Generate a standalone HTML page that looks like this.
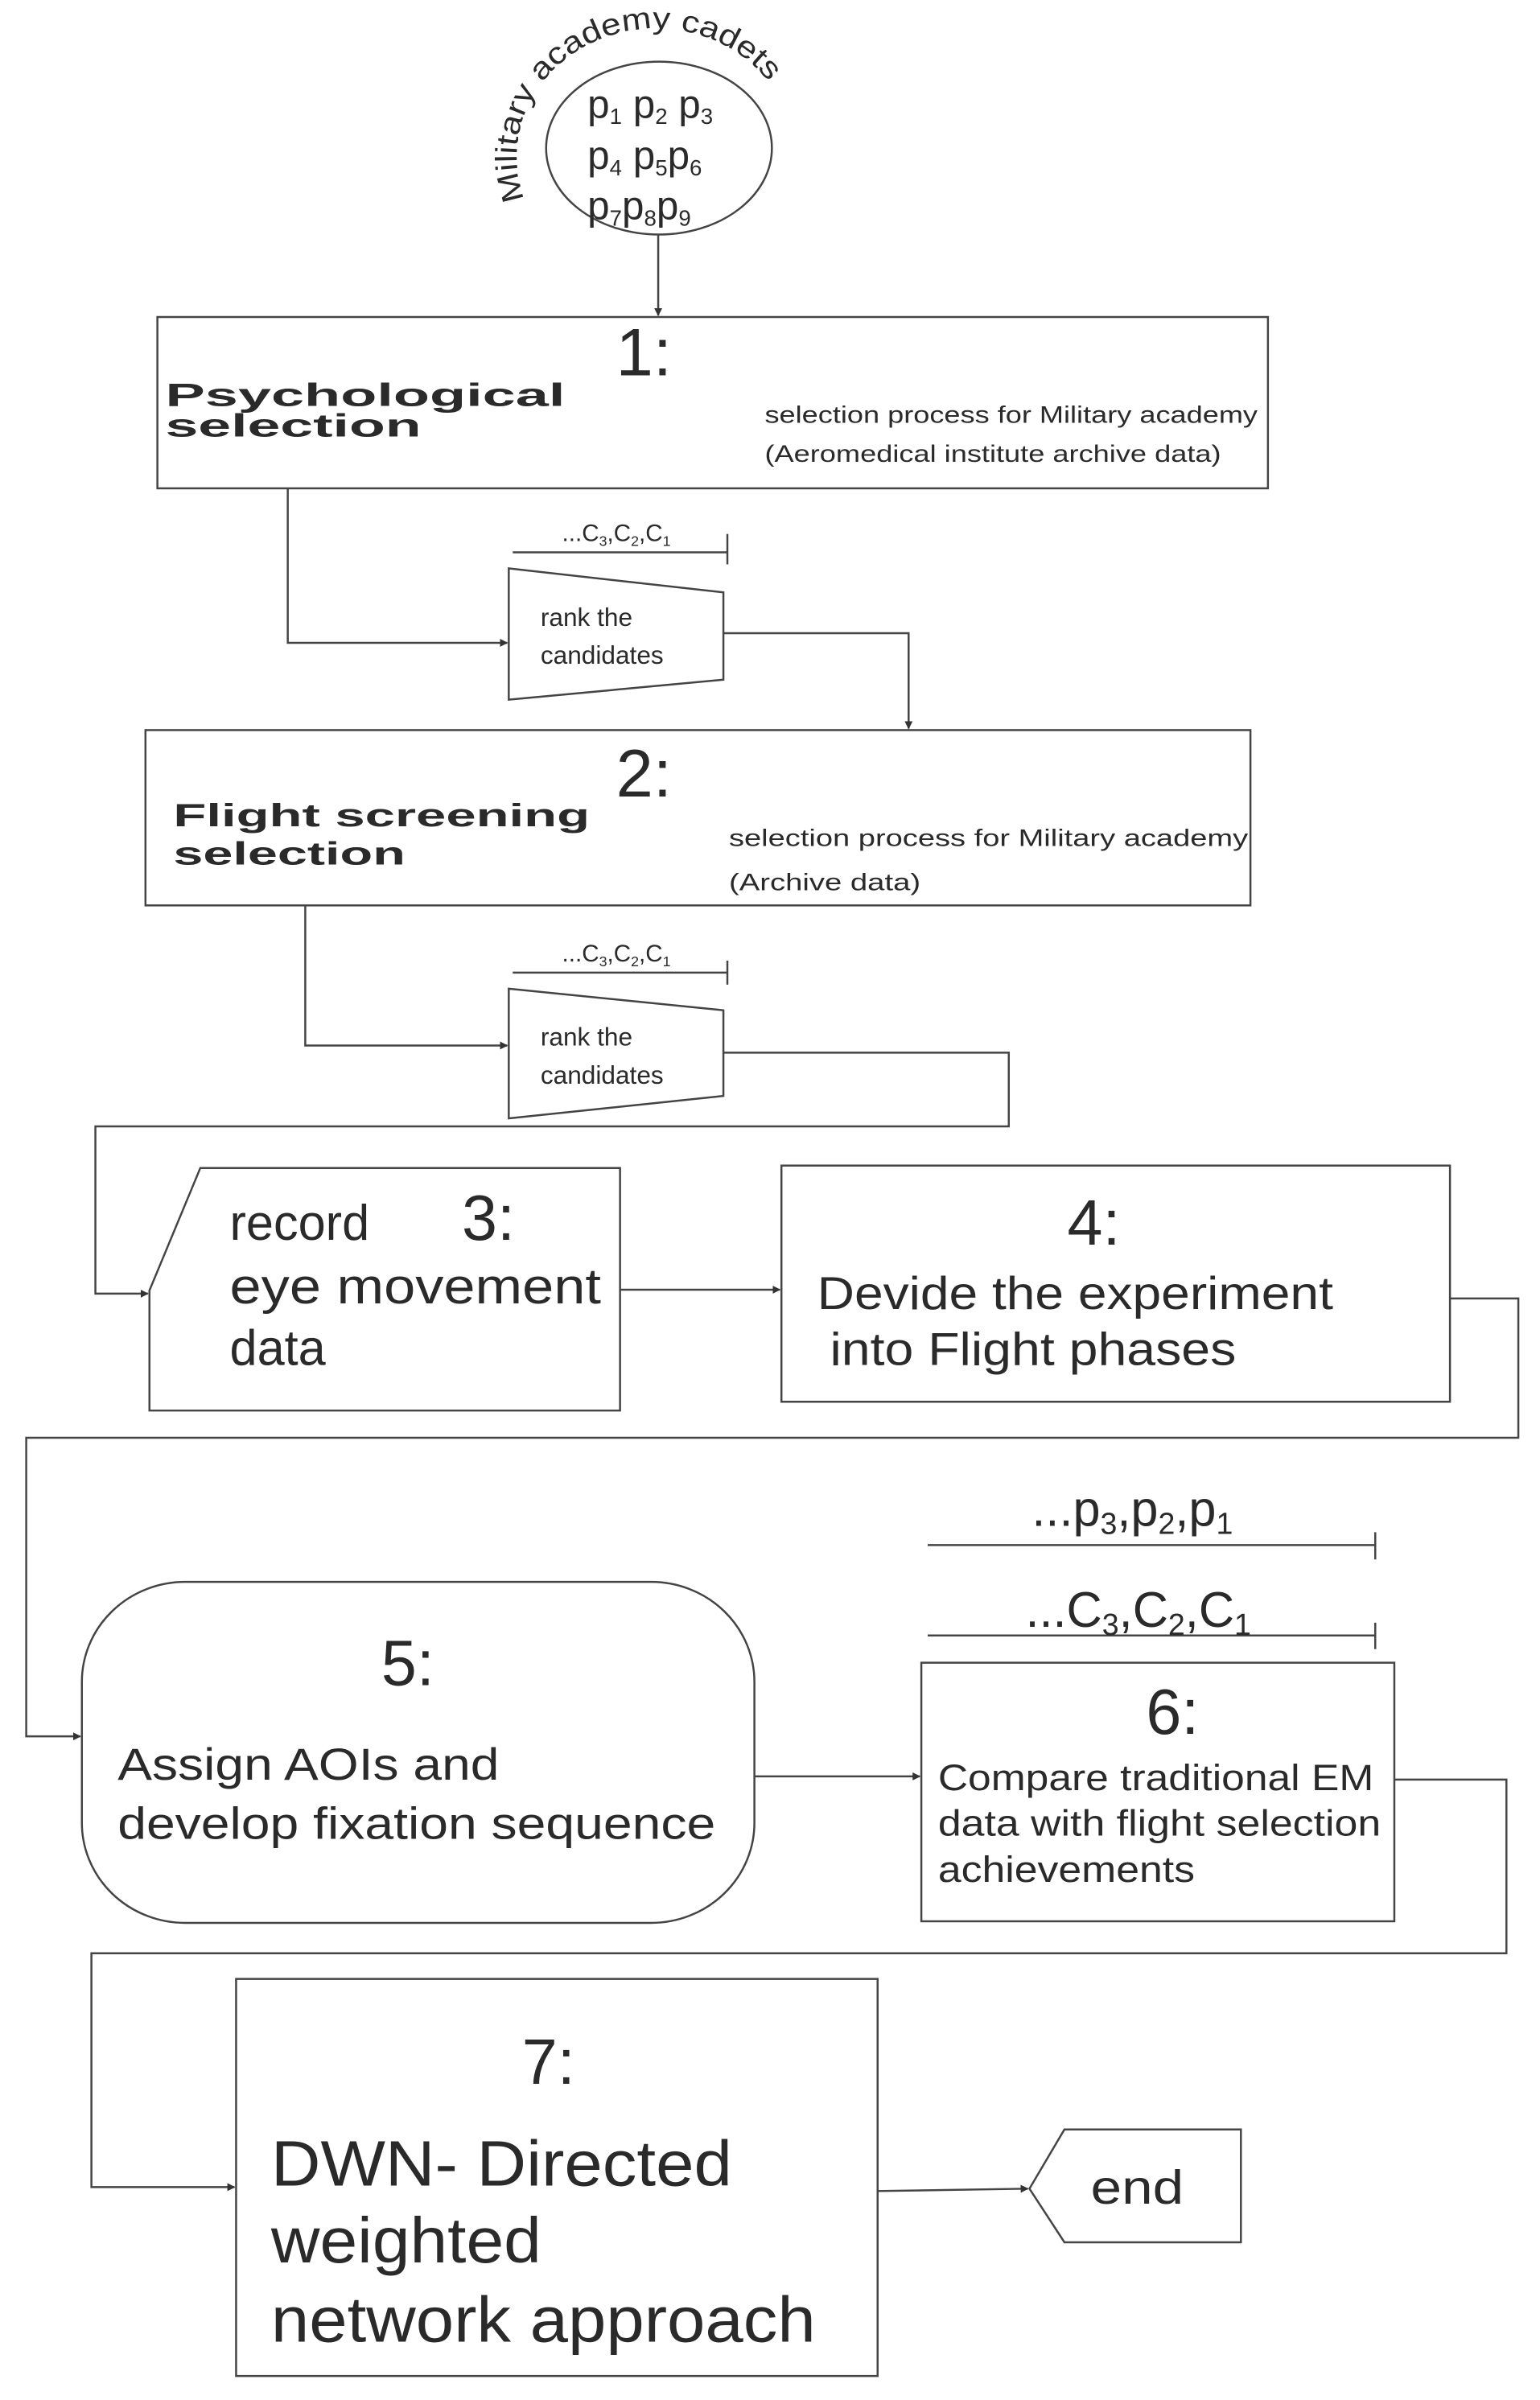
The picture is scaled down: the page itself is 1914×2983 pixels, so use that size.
<!DOCTYPE html>
<html><head><meta charset="utf-8"><style>
html,body{margin:0;padding:0;background:#fff}
svg{display:block}
text{font-family:"Liberation Sans",sans-serif;fill:#2a2a2a}
.n{font-family:"Liberation Sans Narrow","Liberation Sans",sans-serif}
</style></head><body>
<svg width="1914" height="2983" viewBox="0 0 1914 2983" xmlns="http://www.w3.org/2000/svg">
<defs>
<marker id="a" markerWidth="10" markerHeight="10" refX="9" refY="5" orient="auto" markerUnits="userSpaceOnUse">
<path d="M0,0 L10,5 L0,10 z" fill="#333"/></marker>
<path id="arc" d="M 660,249 A 175 160 0 0 1 978,118"/>
</defs>
<g transform="scale(0.988,0.995)">
<g stroke="#444" stroke-width="2.5" fill="none">
<ellipse cx="829" cy="185" rx="142" ry="108" fill="#fff"/>
<line x1="828" y1="293" x2="828" y2="394" marker-end="url(#a)"/>
<rect x="198" y="396" width="1397" height="214" fill="#fff"/>
<polyline points="362,610 362,803 638,803" marker-end="url(#a)"/>
<line x1="645" y1="690" x2="915" y2="690"/><line x1="915" y1="667" x2="915" y2="705"/>
<polygon points="640,710 910,740 910,849 640,874" fill="#fff"/>
<polyline points="910,791 1143,791 1143,910" marker-end="url(#a)"/>
<rect x="183" y="912" width="1390" height="219" fill="#fff"/>
<polyline points="384,1131 384,1306 638,1306" marker-end="url(#a)"/>
<line x1="645" y1="1215" x2="915" y2="1215"/><line x1="915" y1="1200" x2="915" y2="1230"/>
<polygon points="640,1235 910,1262 910,1369 640,1397" fill="#fff"/>
<polyline points="910,1315 1269,1315 1269,1407 120,1407 120,1616 186,1616" marker-end="url(#a)"/>
<polygon points="252,1459 780,1459 780,1762 188,1762 188,1612" fill="#fff"/>
<line x1="780" y1="1611" x2="981" y2="1611" marker-end="url(#a)"/>
<rect x="983" y="1456" width="841" height="295" fill="#fff"/>
<polyline points="1824,1622 1910,1622 1910,1796 33,1796 33,2169 101,2169" marker-end="url(#a)"/>
<line x1="1167" y1="1930" x2="1730" y2="1930"/><line x1="1730" y1="1914" x2="1730" y2="1948"/>
<line x1="1167" y1="2043" x2="1730" y2="2043"/><line x1="1730" y1="2027" x2="1730" y2="2060"/>
<rect x="103" y="1976" width="846" height="426" rx="130" ry="125" fill="#fff"/>
<line x1="949" y1="2219" x2="1157" y2="2219" marker-end="url(#a)"/>
<rect x="1159" y="2077" width="595" height="323" fill="#fff"/>
<polyline points="1754,2223 1895,2223 1895,2440 115,2440 115,2732 295,2732" marker-end="url(#a)"/>
<rect x="297" y="2472" width="807" height="496" fill="#fff"/>
<line x1="1104" y1="2737" x2="1293" y2="2734" marker-end="url(#a)"/>
<polygon points="1295,2734 1339,2660 1561,2660 1561,2801 1339,2801" fill="#fff"/>
</g>

<text class="n" font-size="38"><textPath href="#arc" textLength="480" lengthAdjust="spacingAndGlyphs">Military academy cadets</textPath></text>
<text class="n" font-size="50" x="739" y="147">p<tspan font-size="28" dy="8">1</tspan><tspan dy="-8"> p</tspan><tspan font-size="28" dy="8">2</tspan><tspan dy="-8"> p</tspan><tspan font-size="28" dy="8">3</tspan></text>
<text class="n" font-size="50" x="739" y="211">p<tspan font-size="28" dy="8">4</tspan><tspan dy="-8"> p</tspan><tspan font-size="28" dy="8">5</tspan><tspan dy="-8">p</tspan><tspan font-size="28" dy="8">6</tspan></text>
<text class="n" font-size="50" x="739" y="274">p<tspan font-size="28" dy="8">7</tspan><tspan dy="-8">p</tspan><tspan font-size="28" dy="8">8</tspan><tspan dy="-8">p</tspan><tspan font-size="28" dy="8">9</tspan></text>

<text font-size="84" x="810" y="469" text-anchor="middle">1:</text>
<text font-size="40" font-weight="bold" x="208" y="507" textLength="503" lengthAdjust="spacingAndGlyphs">Psychological</text>
<text font-size="40" font-weight="bold" x="208" y="545" textLength="322" lengthAdjust="spacingAndGlyphs">selection</text>
<text class="n" font-size="30" x="962" y="528" textLength="620" lengthAdjust="spacingAndGlyphs">selection process for Military academy</text>
<text class="n" font-size="30" x="962" y="577" textLength="574" lengthAdjust="spacingAndGlyphs">(Aeromedical institute archive data)</text>
<text class="n" font-size="30" x="707" y="676">...C<tspan font-size="18" dy="6">3</tspan><tspan dy="-6">,C</tspan><tspan font-size="18" dy="6">2</tspan><tspan dy="-6">,C</tspan><tspan font-size="18" dy="6">1</tspan></text>
<text class="n" font-size="32" x="680" y="782">rank the</text>
<text class="n" font-size="32" x="680" y="829">candidates</text>

<text font-size="84" x="810" y="995" text-anchor="middle">2:</text>
<text font-size="40" font-weight="bold" x="218" y="1032" textLength="524" lengthAdjust="spacingAndGlyphs">Flight screening</text>
<text font-size="40" font-weight="bold" x="218" y="1080" textLength="292" lengthAdjust="spacingAndGlyphs">selection</text>
<text class="n" font-size="30" x="917" y="1057" textLength="653" lengthAdjust="spacingAndGlyphs">selection process for Military academy</text>
<text class="n" font-size="30" x="917" y="1112" textLength="241" lengthAdjust="spacingAndGlyphs">(Archive data)</text>
<text class="n" font-size="30" x="707" y="1201">...C<tspan font-size="18" dy="6">3</tspan><tspan dy="-6">,C</tspan><tspan font-size="18" dy="6">2</tspan><tspan dy="-6">,C</tspan><tspan font-size="18" dy="6">1</tspan></text>
<text class="n" font-size="32" x="680" y="1306">rank the</text>
<text class="n" font-size="32" x="680" y="1354">candidates</text>

<text class="n" font-size="62" x="289" y="1549">record</text>
<text class="n" font-size="80" x="581" y="1549">3:</text>
<text class="n" font-size="62" x="289" y="1628" textLength="467" lengthAdjust="spacingAndGlyphs">eye movement</text>
<text class="n" font-size="62" x="289" y="1705">data</text>

<text class="n" font-size="80" x="1376" y="1555" text-anchor="middle">4:</text>
<text class="n" font-size="58" x="1028" y="1635" textLength="649" lengthAdjust="spacingAndGlyphs">Devide the experiment</text>
<text class="n" font-size="58" x="1044" y="1705" textLength="511" lengthAdjust="spacingAndGlyphs">into Flight phases</text>

<text class="n" font-size="62" x="1298" y="1906">...p<tspan font-size="38" dy="10">3</tspan><tspan dy="-10">,p</tspan><tspan font-size="38" dy="10">2</tspan><tspan dy="-10">,p</tspan><tspan font-size="38" dy="10">1</tspan></text>
<text class="n" font-size="62" x="1290" y="2032">...C<tspan font-size="38" dy="10">3</tspan><tspan dy="-10">,C</tspan><tspan font-size="38" dy="10">2</tspan><tspan dy="-10">,C</tspan><tspan font-size="38" dy="10">1</tspan></text>

<text class="n" font-size="80" x="513" y="2105" text-anchor="middle">5:</text>
<text class="n" font-size="56" x="148" y="2223" textLength="480" lengthAdjust="spacingAndGlyphs">Assign AOIs and</text>
<text class="n" font-size="56" x="148" y="2297" textLength="752" lengthAdjust="spacingAndGlyphs">develop fixation sequence</text>

<text class="n" font-size="80" x="1475" y="2166" text-anchor="middle">6:</text>
<text class="n" font-size="46" x="1180" y="2236" textLength="548" lengthAdjust="spacingAndGlyphs">Compare traditional EM</text>
<text class="n" font-size="46" x="1180" y="2293" textLength="557" lengthAdjust="spacingAndGlyphs">data with flight selection</text>
<text class="n" font-size="46" x="1180" y="2351" textLength="323" lengthAdjust="spacingAndGlyphs">achievements</text>

<text class="n" font-size="80" x="690" y="2603" text-anchor="middle">7:</text>
<text class="n" font-size="80" x="341" y="2730" textLength="580" lengthAdjust="spacingAndGlyphs">DWN- Directed</text>
<text class="n" font-size="80" x="341" y="2826" textLength="340" lengthAdjust="spacingAndGlyphs">weighted</text>
<text class="n" font-size="80" x="341" y="2925" textLength="685" lengthAdjust="spacingAndGlyphs">network approach</text>

<text class="n" font-size="60" x="1372" y="2753" textLength="117" lengthAdjust="spacingAndGlyphs">end</text>
</g>
</svg>
</body></html>
